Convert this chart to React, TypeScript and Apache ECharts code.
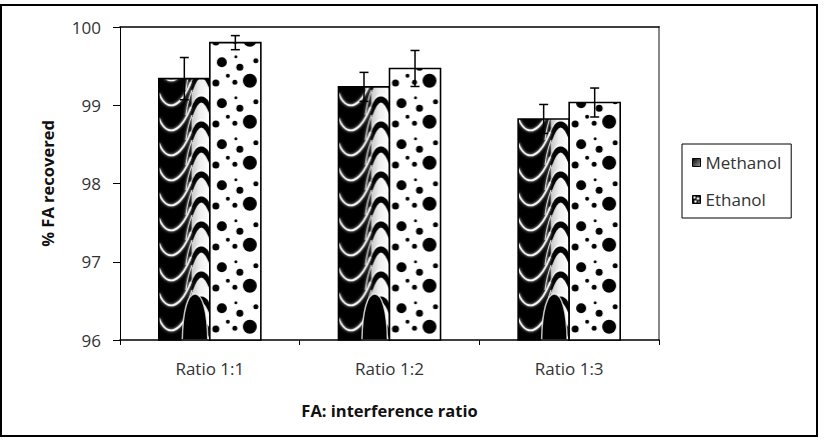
import React, { useEffect, useRef } from 'react';
import * as echarts from 'echarts';

const categories = ['Ratio 1:1', 'Ratio 1:2', 'Ratio 1:3'];
const methanolValues = [99.34, 99.235, 98.825];
const ethanolValues = [99.8, 99.47, 99.035];
const methanolErrors = [0.27, 0.185, 0.185];
const ethanolErrors = [0.09, 0.23, 0.185];
const yMin = 96;
const yMax = 100;
const yInterval = 1;
const seriesNames = ['Methanol', 'Ethanol'];

const FONT = '"Open Sans", "Noto Sans", sans-serif';
const BAR_FRAC = 0.284;

function makeMethanolTile(): HTMLCanvasElement {
  const w = 51;
  const h = 25;
  const c = document.createElement('canvas');
  c.width = w;
  c.height = h;
  const ctx = c.getContext('2d')!;
  ctx.fillStyle = '#000';
  ctx.fillRect(0, 0, w, h);
  const g = ctx.createLinearGradient(w * 0.6, 0, w, 0);
  g.addColorStop(0, '#bdbdbd');
  g.addColorStop(0.5, '#eeeeee');
  g.addColorStop(1, '#ffffff');
  ctx.fillStyle = g;
  ctx.fillRect(w * 0.64, 0, w * 0.36, h);
  for (const off of [-h, 0, h]) {
    ctx.save();
    ctx.strokeStyle = 'rgba(255,255,255,0.95)';
    ctx.shadowColor = 'rgba(255,255,255,0.9)';
    ctx.shadowBlur = 3;
    ctx.lineWidth = 1.8;
    ctx.beginPath();
    ctx.moveTo(0, off + 3);
    ctx.bezierCurveTo(5, off + 16, 13, off + 19, 21, off + 11);
    ctx.bezierCurveTo(26, off + 6, 29, off, 32, off - 8);
    ctx.stroke();
    ctx.lineWidth = 1;
    ctx.beginPath();
    ctx.moveTo(27, off + 25);
    ctx.bezierCurveTo(28, off + 16, 30, off + 8, 33, off);
    ctx.stroke();
    ctx.restore();
    ctx.save();
    ctx.strokeStyle = '#000';
    ctx.lineWidth = 6;
    ctx.beginPath();
    ctx.moveTo(w * 0.6, off + 26);
    ctx.quadraticCurveTo(w * 0.82, off - 6, w + 3, off + 24);
    ctx.stroke();
    ctx.strokeStyle = 'rgba(255,255,255,0.85)';
    ctx.lineWidth = 1.2;
    ctx.beginPath();
    ctx.moveTo(w * 0.6, off + 21);
    ctx.quadraticCurveTo(w * 0.82, off - 11, w + 3, off + 19);
    ctx.stroke();
    ctx.restore();
  }
  return c;
}

function makeEthanolTile(): HTMLCanvasElement {
  const w = 51;
  const h = 41;
  const c = document.createElement('canvas');
  c.width = w;
  c.height = h;
  const ctx = c.getContext('2d')!;
  ctx.fillStyle = '#fff';
  ctx.fillRect(0, 0, w, h);
  const dots = [
    [12, 9.3, 5],
    [26, 3.7, 1.5],
    [46, 7.7, 2.5],
    [30, 14.3, 3.5],
    [18, 22.7, 2],
    [6, 30, 3.5],
    [25, 29.3, 2.5],
    [40, 27.7, 7],
  ];
  ctx.fillStyle = '#000';
  for (const off of [-h, 0, h]) {
    for (const [x, y, r] of dots) {
      ctx.beginPath();
      ctx.arc(x, y + off, r, 0, Math.PI * 2);
      ctx.fill();
    }
  }
  return c;
}

function makeLegendDots(): HTMLCanvasElement {
  const c = document.createElement('canvas');
  c.width = 8;
  c.height = 8;
  const ctx = c.getContext('2d')!;
  ctx.fillStyle = '#000';
  ctx.fillRect(0, 0, 8, 8);
  ctx.fillStyle = '#fff';
  for (const [x, y, r] of [[2, 2, 1.2], [5.5, 3, 1.5], [3, 6, 1.3], [6.5, 6.5, 0.8]]) {
    ctx.beginPath();
    ctx.arc(x, y, r, 0, Math.PI * 2);
    ctx.fill();
  }
  return c;
}

export default function App() {
  const ref = useRef<HTMLDivElement>(null);

  useEffect(() => {
    if (!ref.current) return;
    const chart = echarts.init(ref.current, undefined, { renderer: 'svg' });

    const methanolPattern = { image: makeMethanolTile(), repeat: 'repeat' };
    const ethanolPattern = { image: makeEthanolTile(), repeat: 'repeat' };
    const legendDots = { image: makeLegendDots(), repeat: 'repeat' };
    const methanolLegend = new echarts.graphic.LinearGradient(0, 0, 1, 1, [
      { offset: 0, color: '#000' },
      { offset: 1, color: '#9a9a9a' },
    ]);

    const barRender = (side: number, fill: any, arch: boolean) => (params: any, api: any) => {
      const idx = api.value(0);
      const val = api.value(1);
      const base = api.coord([idx, yMin]);
      const top = api.coord([idx, val]);
      const band = api.size([1, 0])[0];
      const w = band * BAR_FRAC;
      const h = base[1] - top[1];
      const x0 = side < 0 ? base[0] - w : base[0];
      const children: any[] = [
        { type: 'rect', shape: { x: 0, y: -h, width: w, height: h }, style: { fill } },
      ];
      if (arch) {
        children.push({
          type: 'path',
          shape: {
            pathData: 'M0 100 C2 35 22 0 50 0 C78 0 98 35 100 100 Z',
            x: w * 0.46,
            y: -46,
            width: w * 0.5,
            height: 46,
            layout: 'cover',
          },
          style: { fill: '#000', stroke: 'rgba(255,255,255,0.75)', lineWidth: 1.5 },
        });
      }
      children.push({
        type: 'rect',
        shape: { x: 0, y: -h, width: w, height: h },
        style: { fill: 'none', stroke: '#000', lineWidth: 1.6 },
      });
      return { type: 'group', x: x0, y: base[1], children };
    };

    const errRender = (side: number) => (params: any, api: any) => {
      const idx = api.value(0);
      const hi = api.coord([idx, api.value(1)]);
      const lo = api.coord([idx, api.value(2)]);
      const band = api.size([1, 0])[0];
      const w = band * BAR_FRAC;
      const cx = hi[0] + side * w / 2;
      const cap = 4.5;
      const st = { stroke: '#000', lineWidth: 1.5 };
      return {
        type: 'group',
        children: [
          { type: 'line', shape: { x1: cx, y1: hi[1], x2: cx, y2: lo[1] }, style: st },
          { type: 'line', shape: { x1: cx - cap, y1: hi[1], x2: cx + cap, y2: hi[1] }, style: st },
          { type: 'line', shape: { x1: cx - cap, y1: lo[1], x2: cx + cap, y2: lo[1] }, style: st },
        ],
      };
    };

    const methanolData = methanolValues.map((v, i) => [i, v]);
    const ethanolData = ethanolValues.map((v, i) => [i, v]);
    const methanolErrData = methanolValues.map((v, i) => [i, v + methanolErrors[i], v - methanolErrors[i]]);
    const ethanolErrData = ethanolValues.map((v, i) => [i, v + ethanolErrors[i], v - ethanolErrors[i]]);

    chart.setOption({
      animation: false,
      backgroundColor: '#fff',
      grid: { left: 120, right: 169, top: 27, bottom: 102, outerBoundsMode: 'none' },
      legend: {
        orient: 'vertical',
        left: 682,
        top: 144,
        padding: [10, 10, 10, 10],
        itemWidth: 8,
        itemHeight: 8,
        itemGap: 20,
        itemTextGap: 9,
        borderColor: '#000',
        borderWidth: 1,
        textStyle: { fontFamily: FONT, fontSize: 17, color: '#333' },
        data: [
          { name: seriesNames[0], icon: 'rect', itemStyle: { color: methanolLegend, borderColor: '#000', borderWidth: 1 } },
          { name: seriesNames[1], icon: 'rect', itemStyle: { color: legendDots, borderColor: '#000', borderWidth: 1 } },
        ],
      },
      xAxis: [
        {
          type: 'category',
          data: categories,
          boundaryGap: true,
          axisLine: { lineStyle: { color: '#000', width: 1.5 } },
          axisTick: { show: true, length: 5, lineStyle: { color: '#000' } },
          axisLabel: { fontFamily: FONT, fontSize: 17, color: '#333', margin: 20 },
          name: 'FA: interference ratio',
          nameLocation: 'middle',
          nameGap: 62,
          nameTextStyle: { fontFamily: FONT, fontSize: 16.5, fontWeight: 'bold', color: '#111' },
        },
        {
          type: 'category',
          data: categories,
          position: 'top',
          axisLine: { show: true, lineStyle: { color: '#000', width: 1.5 } },
          axisTick: { show: false },
          axisLabel: { show: false },
        },
      ],
      yAxis: [
        {
          type: 'value',
          min: yMin,
          max: yMax,
          interval: yInterval,
          axisLine: { show: true, lineStyle: { color: '#000', width: 1 } },
          axisTick: { show: true, length: 7, lineStyle: { color: '#000' } },
          splitLine: { show: false },
          axisLabel: { fontFamily: FONT, fontSize: 17, color: '#333', margin: 19 },
          name: '% FA recovered',
          nameLocation: 'middle',
          nameGap: 64,
          nameTextStyle: { fontFamily: FONT, fontSize: 16.5, fontWeight: 'bold', color: '#111' },
        },
        {
          type: 'value',
          min: yMin,
          max: yMax,
          interval: yInterval,
          position: 'right',
          axisLine: { show: true, lineStyle: { color: '#888', width: 2 } },
          axisTick: { show: false },
          axisLabel: { show: false },
          splitLine: { show: false },
        },
      ],
      series: [
        {
          name: seriesNames[0],
          type: 'custom',
          data: methanolData,
          encode: { x: 0, y: 1 },
          itemStyle: { color: methanolLegend },
          renderItem: barRender(-1, methanolPattern, true),
          z: 2,
        },
        {
          name: seriesNames[1],
          type: 'custom',
          data: ethanolData,
          encode: { x: 0, y: 1 },
          itemStyle: { color: legendDots },
          renderItem: barRender(1, ethanolPattern, false),
          z: 2,
        },
        {
          type: 'custom',
          data: methanolErrData,
          encode: { x: 0, y: [1, 2] },
          renderItem: errRender(-1),
          z: 5,
        },
        {
          type: 'custom',
          data: ethanolErrData,
          encode: { x: 0, y: [1, 2] },
          renderItem: errRender(1),
          z: 5,
        },
      ],
      graphic: [
        {
          type: 'rect',
          shape: { x: 1, y: 5, width: 816, height: 431 },
          style: { fill: 'none', stroke: '#000', lineWidth: 2 },
          silent: true,
          z: 10,
        },
      ],
    });

    return () => chart.dispose();
  }, []);

  return (
    <div
      ref={ref}
      style={{ position: 'absolute', left: 0, top: 0, width: 828, height: 442 }}
    />
  );
}
